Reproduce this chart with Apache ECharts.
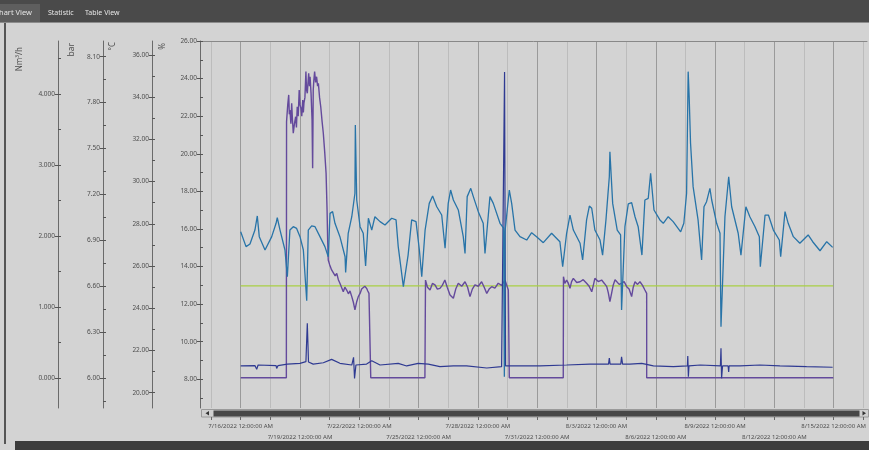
<!DOCTYPE html>
<html><head><meta charset="utf-8">
<script src="https://cdn.jsdelivr.net/npm/echarts@6/dist/echarts.min.js"></script>
<style>html,body{margin:0;padding:0;background:#d3d3d3;overflow:hidden}#c{width:869px;height:450px}</style>
</head><body><div id="c"></div>
<script>
// ---------- data ----------
const startDate = '2022-07-16T00:00:00';          // day offsets below are counted from here
const xRange = ['2022-07-13T22:35:00', '2022-08-16T16:30:00'];
const xMajorTicks = ['2022-07-16','2022-07-19','2022-07-22','2022-07-25','2022-07-28','2022-07-31','2022-08-03','2022-08-06','2022-08-09','2022-08-12','2022-08-15'];
const xMajorLabels = ['7/16/2022 12:00:00 AM','7/19/2022 12:00:00 AM','7/22/2022 12:00:00 AM','7/25/2022 12:00:00 AM','7/28/2022 12:00:00 AM','7/31/2022 12:00:00 AM','8/3/2022 12:00:00 AM','8/6/2022 12:00:00 AM','8/9/2022 12:00:00 AM','8/12/2022 12:00:00 AM','8/15/2022 12:00:00 AM'];
const xMinorTicks = ['2022-07-14T12:00','2022-07-17T12:00','2022-07-20T12:00','2022-07-23T12:00','2022-07-26T12:00','2022-07-29T12:00','2022-08-01T12:00','2022-08-04T12:00','2022-08-07T12:00','2022-08-10T12:00','2022-08-13T12:00','2022-08-16T12:00'];

// axis ranges and ticks
const pctRange = [6.473, 26];   const pctTicks = [8,10,12,14,16,18,20,22,24,26];     const pctMinor = [7,9,11,13,15,17,19,21,23,25];
const tempRange = [19.275, 36.663]; const tempTicks = [20,22,24,26,28,30,32,34,36]; const tempMinor = [21,23,25,27,29,31,33,35];
const barRange = [5.806, 8.2025]; const barTicks = [6.0,6.3,6.6,6.9,7.2,7.5,7.8,8.1]; const barMinor = [5.85,6.15,6.45,6.75,7.05,7.35,7.65,7.95];
const flowRange = [-0.4225, 4.746]; const flowTicks = [0,1,2,3,4]; const flowMinor = [0.5,1.5,2.5,3.5,4.5];
const axisNames = ['Nm³/h','bar','°C','%'];
const tabNames = ['Chart View','Statistic','Table View'];

// series: [day offset from startDate, value on the % axis]
const seriesBlue = [[0,15.85],[0.27,15.06],[0.47,15.20],[0.72,15.94],[0.84,16.69],[0.94,15.59],[1.23,14.88],[1.57,15.59],[1.79,16.30],[1.85,16.60],[1.99,15.94],[2.24,14.88],[2.36,13.46],[2.49,15.94],[2.66,16.12],[2.83,16.03],[3.00,15.59],[3.17,14.88],[3.34,12.18],[3.42,15.94],[3.59,16.16],[3.76,16.12],[4.01,15.59],[4.26,15.06],[4.43,14.52],[4.52,16.83],[4.65,16.92],[4.77,16.30],[5.02,15.59],[5.28,14.52],[5.31,13.69],[5.44,15.77],[5.62,16.65],[5.78,17.90],[5.80,21.53],[5.87,17.54],[6.04,16.12],[6.20,15.77],[6.32,14.03],[6.46,16.57],[6.63,15.94],[6.79,16.65],[7.05,16.39],[7.30,16.21],[7.64,16.57],[7.86,16.48],[7.97,15.06],[8.23,12.93],[8.47,14.61],[8.65,16.48],[8.87,16.39],[9.04,14.88],[9.16,13.46],[9.33,15.94],[9.54,17.36],[9.71,17.75],[9.92,17.18],[10.17,16.74],[10.34,14.97],[10.50,17.36],[10.62,18.07],[10.76,17.54],[11.01,17.01],[11.26,15.59],[11.35,14.70],[11.46,17.72],[11.64,18.16],[11.77,17.72],[12.02,16.92],[12.27,16.30],[12.36,14.70],[12.61,17.72],[12.78,17.36],[13.12,16.30],[13.30,16.05],[13.34,8.14],[13.37,15.84],[13.46,15.77],[13.59,18.07],[13.71,17.36],[13.88,15.94],[14.13,15.59],[14.47,15.41],[14.72,15.80],[14.97,15.59],[15.31,15.27],[15.73,15.77],[16.15,15.32],[16.29,13.99],[16.49,15.77],[16.66,16.74],[16.83,15.94],[17.17,15.24],[17.30,14.35],[17.50,16.48],[17.64,17.22],[17.76,17.10],[17.92,15.94],[18.18,15.41],[18.31,14.61],[18.48,16.48],[18.65,18.78],[18.68,20.11],[18.82,17.36],[19.05,15.94],[19.22,15.68],[19.27,11.69],[19.44,16.12],[19.61,17.33],[19.78,17.40],[19.95,16.65],[20.11,16.12],[20.30,14.61],[20.45,17.54],[20.62,17.63],[20.74,18.96],[20.91,17.01],[21.21,16.48],[21.38,16.30],[21.63,16.65],[21.88,16.39],[22.26,15.85],[22.42,16.30],[22.56,17.90],[22.64,24.37],[22.69,23.04],[22.76,20.56],[22.89,18.25],[23.14,16.48],[23.32,14.35],[23.44,17.18],[23.57,17.45],[23.74,18.16],[23.83,17.54],[24.08,16.30],[24.25,15.77],[24.30,10.80],[24.50,16.65],[24.69,18.78],[24.84,17.18],[25.17,15.77],[25.31,14.61],[25.56,17.18],[25.76,16.65],[26.02,16.12],[26.24,15.59],[26.29,13.99],[26.53,16.74],[26.70,16.74],[26.95,15.94],[27.25,15.41],[27.32,14.52],[27.54,16.92],[27.70,16.30],[27.96,15.59],[28.29,15.24],[28.71,15.68],[28.94,15.32],[29.31,14.84],[29.65,15.32],[29.95,15.02]];

const seriesPurple = [[0,8.08],[2.31,8.08],[2.32,21.71],[2.38,22.60],[2.43,23.13],[2.46,22.10],[2.49,22.33],[2.54,21.60],[2.58,22.68],[2.62,21.80],[2.66,21.09],[2.72,21.60],[2.78,21.97],[2.82,21.40],[2.86,22.50],[2.91,22.00],[2.96,23.39],[3.00,22.60],[3.05,22.42],[3.09,22.00],[3.14,22.86],[3.17,22.20],[3.20,22.69],[3.25,23.00],[3.30,24.37],[3.33,23.40],[3.37,23.22],[3.40,23.70],[3.44,24.28],[3.48,23.60],[3.51,24.10],[3.56,23.20],[3.61,21.80],[3.64,19.23],[3.67,23.39],[3.70,23.90],[3.74,24.37],[3.79,23.80],[3.84,24.10],[3.89,23.60],[3.93,23.75],[3.99,23.00],[4.05,22.50],[4.12,21.70],[4.18,21.09],[4.25,20.10],[4.32,18.96],[4.37,17.00],[4.40,15.41],[4.43,14.35],[4.50,14.10],[4.60,13.82],[4.70,13.90],[4.78,13.50],[4.86,13.64],[4.94,13.30],[5.02,13.11],[5.10,12.90],[5.19,12.66],[5.27,12.90],[5.36,12.75],[5.45,12.55],[5.53,12.70],[5.62,12.40],[5.70,12.10],[5.78,11.69],[5.87,12.13],[5.95,12.40],[6.04,12.57],[6.12,12.80],[6.20,12.75],[6.28,12.95],[6.37,12.84],[6.43,12.70],[6.49,12.57],[6.58,12.57],[6.58,8.08],[9.32,8.08],[9.35,13.28],[9.45,12.90],[9.58,12.75],[9.70,13.10],[9.83,13.02],[9.95,12.80],[10.08,12.84],[10.20,13.00],[10.33,13.28],[10.45,12.90],[10.59,12.49],[10.76,12.31],[10.88,12.80],[11.01,13.11],[11.18,12.95],[11.35,13.19],[11.48,12.90],[11.60,12.40],[11.72,12.80],[11.85,13.02],[12.02,12.95],[12.19,13.19],[12.32,12.90],[12.45,12.57],[12.57,12.80],[12.70,12.93],[12.86,12.85],[13.03,13.11],[13.20,13.00],[13.37,13.28],[13.46,13.00],[13.54,12.75],[13.59,12.75],[13.59,8.08],[16.32,8.08],[16.33,13.46],[16.40,13.10],[16.49,13.28],[16.58,13.10],[16.66,12.84],[16.74,13.20],[16.83,13.37],[17.00,13.15],[17.17,13.19],[17.33,13.30],[17.50,13.11],[17.63,12.95],[17.76,12.66],[17.84,13.00],[17.92,13.37],[18.09,13.20],[18.26,13.28],[18.40,13.10],[18.52,12.93],[18.60,12.60],[18.68,12.13],[18.77,12.60],[18.85,13.02],[18.94,13.30],[19.02,13.28],[19.15,13.05],[19.27,13.11],[19.40,13.20],[19.53,12.93],[19.65,12.80],[19.78,12.40],[19.86,12.90],[19.95,13.19],[20.08,13.05],[20.20,13.19],[20.33,13.00],[20.45,12.75],[20.54,12.57],[20.54,8.08],[29.98,8.08]];

const seriesNavy = [[0,8.71],[0.72,8.73],[0.81,8.53],[0.88,8.76],[1.79,8.73],[1.82,8.58],[1.89,8.73],[2.36,8.81],[3.00,8.85],[3.30,8.94],[3.37,10.98],[3.43,8.92],[3.67,8.81],[4.18,8.88],[4.60,9.06],[5.02,8.85],[5.62,8.76],[5.71,9.17],[5.76,8.05],[5.83,8.76],[6.37,8.81],[6.63,8.99],[7.05,8.76],[7.97,8.85],[8.40,8.71],[8.98,8.85],[9.49,8.81],[10.08,8.67],[10.76,8.71],[11.43,8.71],[12.45,8.60],[13.20,8.67],[13.35,24.35],[13.40,8.71],[14.13,8.71],[15.14,8.71],[16.49,8.76],[17.67,8.81],[18.61,8.81],[18.65,9.13],[18.69,8.81],[19.23,8.81],[19.27,9.20],[19.32,8.81],[19.69,8.81],[20.29,8.85],[20.88,8.71],[21.89,8.67],[22.60,8.71],[22.62,9.24],[22.65,8.14],[22.68,8.71],[23.25,8.76],[24.27,8.71],[24.30,9.65],[24.33,8.05],[24.38,8.71],[24.66,8.71],[24.69,8.39],[24.71,8.71],[25.26,8.71],[26.27,8.76],[27.28,8.71],[28.63,8.67],[29.95,8.64]];

const seriesGreen = [[0,12.97],[29.97,12.97]];

// ---------- build ----------
const ms = s => new Date(s.length <= 10 ? s + 'T00:00:00' : s).getTime();
const t0 = ms(startDate), DAY = 86400000;
const toTime = arr => arr.map(p => [t0 + p[0] * DAY, p[1]]);
const majorMs = xMajorTicks.map(ms), minorMs = xMinorTicks.map(ms);
const allXTicks = majorMs.concat(minorMs).sort((a,b)=>a-b);
const row1Ms = majorMs.filter((v,i)=>i%2===0), row2Ms = majorMs.filter((v,i)=>i%2===1);

const LBL = '#4e4e4e', LINE = '#6a6a6a';
function yPair(range, ticks, minor, offset, dec) {
  const common = {type:'value', gridIndex:0, position:'left', offset, min:range[0], max:range[1], splitLine:{show:false}};
  return [
    Object.assign({}, common, {
      axisLine:{show:true, onZero:false, lineStyle:{color:LINE, width:1}},
      axisTick:{show:true, length:3, customValues:ticks, lineStyle:{color:'#555', width:1}},
      axisLabel:{show:true, customValues:ticks, formatter:v=>Number(v).toFixed(dec), fontSize:6.5, color:LBL, margin:3, fontFamily:'Noto Sans'}
    }),
    Object.assign({}, common, {
      axisLine:{show:false, onZero:false},
      axisTick:{show:true, inside:true, length:3, customValues:ticks.concat(minor), lineStyle:{color:'#555', width:1}},
      axisLabel:{show:false}
    })
  ];
}
const yAxes = [].concat(
  yPair(pctRange, pctTicks, pctMinor, 0, 2),
  yPair(tempRange, tempTicks, tempMinor, 48, 2),
  yPair(barRange, barTicks, barMinor, 97, 2),
  yPair(flowRange, flowTicks, flowMinor, 142, 3),
  [{type:'value', gridIndex:1, show:false, min:0, max:1}]
);

const xMin = ms(xRange[0]), xMax = ms(xRange[1]);
const labelFmt = v => { const i = majorMs.indexOf(+v); return i < 0 ? '' : xMajorLabels[i]; };
const option = {
  animation:false,
  backgroundColor:'#d3d3d3',
  grid:[
    {left:200, right:2, top:41, height:367, show:false},
    {left:200, right:2, top:416, height:1, show:false}
  ],
  xAxis:[
    {type:'value', gridIndex:0, position:'bottom', min:xMin, max:xMax,
     axisLine:{show:false, onZero:false}, axisTick:{show:false, customValues:majorMs}, axisLabel:{show:false},
     splitLine:{show:true, lineStyle:{color:'#9a9a9a', width:1}}},
    {type:'value', gridIndex:0, position:'top', min:xMin, max:xMax,
     axisLine:{show:true, onZero:false, lineStyle:{color:'#888', width:1}}, axisTick:{show:false, customValues:minorMs}, axisLabel:{show:false},
     splitLine:{show:true, lineStyle:{color:'#bcbcbc', width:1}}},
    {type:'value', gridIndex:1, position:'bottom', min:xMin, max:xMax,
     axisLine:{show:false, onZero:false}, splitLine:{show:false},
     axisTick:{show:true, length:3, customValues:allXTicks, lineStyle:{color:'#666'}},
     axisLabel:{show:true, customValues:row1Ms, showMinLabel:true, showMaxLabel:true, hideOverlap:false,
       fontSize:6, color:LBL, margin:6, fontFamily:'Noto Sans', formatter:labelFmt}},
    {type:'value', gridIndex:1, position:'bottom', min:xMin, max:xMax,
     axisLine:{show:false, onZero:false}, splitLine:{show:false},
     axisTick:{show:false, customValues:row2Ms},
     axisLabel:{show:true, customValues:row2Ms, showMinLabel:true, showMaxLabel:true, hideOverlap:false,
       fontSize:6, color:LBL, margin:17, fontFamily:'Noto Sans', formatter:labelFmt}}
  ],
  yAxis:yAxes,
  series:[
    {name:'setpoint', type:'line', xAxisIndex:0, yAxisIndex:0, data:toTime(seriesGreen), showSymbol:false, lineStyle:{color:'#a9cf45', width:1.2}, itemStyle:{color:'#a9cf45'}, z:2},
    {name:'flow', type:'line', xAxisIndex:0, yAxisIndex:0, data:toTime(seriesPurple), showSymbol:false, lineStyle:{color:'#644a9c', width:1.4}, itemStyle:{color:'#644a9c'}, z:3},
    {name:'pressure', type:'line', xAxisIndex:0, yAxisIndex:0, data:toTime(seriesNavy), showSymbol:false, lineStyle:{color:'#2f3a92', width:1.2}, itemStyle:{color:'#2f3a92'}, z:4},
    {name:'humidity', type:'line', xAxisIndex:0, yAxisIndex:0, data:toTime(seriesBlue), showSymbol:false, lineStyle:{color:'#2874a8', width:1.3}, itemStyle:{color:'#2874a8'}, z:5}
  ],
  graphic:[
    {type:'rect', shape:{x:0,y:0,width:869,height:22}, style:{fill:'#4a4a4a'}, silent:true},
    {type:'rect', shape:{x:0,y:4,width:40,height:18}, style:{fill:'#5e5e5e'}, silent:true},
    {type:'rect', shape:{x:0,y:22,width:869,height:1}, style:{fill:'#8c8c8c'}, silent:true},
    {type:'text', x:32, y:13, style:{text:tabNames[0], align:'right', verticalAlign:'middle', fill:'#e6e6e6', fontSize:7.5, fontFamily:'Noto Sans'}},
    {type:'text', x:48, y:13, style:{text:tabNames[1], align:'left', verticalAlign:'middle', fill:'#e6e6e6', fontSize:7, fontFamily:'Noto Sans'}},
    {type:'text', x:85, y:13, style:{text:tabNames[2], align:'left', verticalAlign:'middle', fill:'#e6e6e6', fontSize:7, fontFamily:'Noto Sans'}},
    {type:'rect', shape:{x:4,y:23,width:2,height:421}, style:{fill:'#555'}, silent:true},
    {type:'rect', shape:{x:15,y:441,width:854,height:9}, style:{fill:'#3c3c3c'}, silent:true},
    {type:'text', x:20, y:47, rotation:Math.PI/2, style:{text:axisNames[0], align:'right', verticalAlign:'middle', fill:LBL, fontSize:8, fontFamily:'Noto Sans'}},
    {type:'text', x:72, y:43, rotation:Math.PI/2, style:{text:axisNames[1], align:'right', verticalAlign:'middle', fill:LBL, fontSize:8.5, fontFamily:'Noto Sans'}},
    {type:'text', x:113, y:42, rotation:Math.PI/2, style:{text:axisNames[2], align:'right', verticalAlign:'middle', fill:LBL, fontSize:8, fontFamily:'Noto Sans'}},
    {type:'text', x:163, y:43, rotation:Math.PI/2, style:{text:axisNames[3], align:'right', verticalAlign:'middle', fill:LBL, fontSize:8, fontFamily:'Noto Sans'}},
    {type:'rect', shape:{x:201.5,y:409.5,width:667,height:7.5}, style:{fill:'#cfcfcf', stroke:'#9a9a9a', lineWidth:1}, silent:true},
    {type:'rect', shape:{x:213.5,y:410.5,width:646,height:6}, style:{fill:'#474747'}, silent:true},
    {type:'polygon', shape:{points:[[205.5,413.2],[209,411],[209,415.4]]}, style:{fill:'#333'}, silent:true},
    {type:'polygon', shape:{points:[[866,413.2],[862.5,411],[862.5,415.4]]}, style:{fill:'#333'}, silent:true}
  ]
};
const chart = echarts.init(document.getElementById('c'), null, {renderer:'canvas'});
chart.setOption(option);
</script></body></html>
